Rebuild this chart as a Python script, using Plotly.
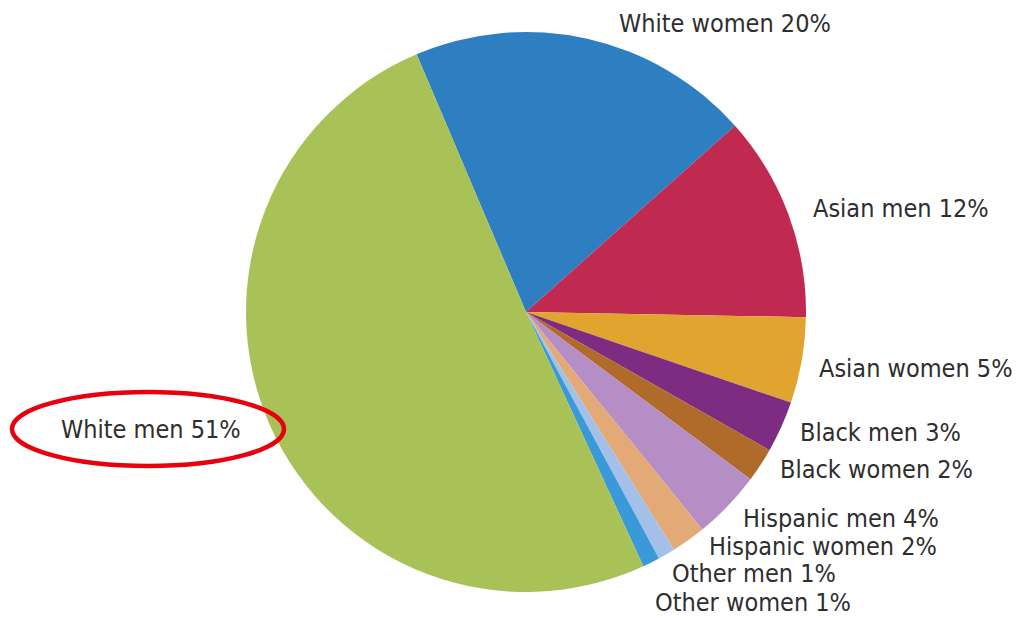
import plotly.graph_objects as go

# Share of workforce by group (percent)
groups = ["White women", "Asian men", "Asian women", "Black men", "Black women",
          "Hispanic men", "Hispanic women", "Other men", "Other women", "White men"]
shares = [20, 12, 5, 3, 2, 4, 2, 1, 1, 51]
colors = ["#2D7FC1", "#C02A50", "#E0A42F", "#7E2B82", "#B06A2A",
          "#B58EC6", "#E3A977", "#A4C0E8", "#3A9AD9", "#A8C257"]

# Label centres in pixels (x, y from top) for the 1023x618 canvas
label_px = [(725, 24), (901, 208), (916, 368), (880, 432), (876, 469),
            (841, 518), (823, 546), (754, 573), (753, 602), (151, 429)]

W, H = 1023, 618
cx, cy, r = 526, 312, 280

fig = go.Figure(go.Pie(
    labels=groups,
    values=shares,
    sort=False,
    direction="clockwise",
    rotation=-23,
    marker=dict(colors=colors, line=dict(width=0)),
    textinfo="none",
    hoverinfo="label+percent",
    showlegend=False,
    domain=dict(x=[(cx - r) / W, (cx + r) / W],
                y=[(H - cy - r) / H, (H - cy + r) / H]),
))

font = dict(family="Liberation Sans Narrow, DejaVu Sans Condensed, sans-serif",
            size=25, color="#2E2E2E")
for g, s, (px, py) in zip(groups, shares, label_px):
    fig.add_annotation(x=px / W, y=1 - py / H, xref="paper", yref="paper",
                       text=f"{g} {s}%", showarrow=False, font=font,
                       xanchor="center", yanchor="middle", borderpad=0)

# Highlight ring around the largest group
fig.add_shape(type="circle", xref="paper", yref="paper",
              x0=12 / W, x1=284 / W, y0=1 - 466 / H, y1=1 - 392 / H,
              line=dict(color="#E8000E", width=4.5))

fig.update_layout(width=W, height=H, margin=dict(l=0, r=0, t=0, b=0),
                  paper_bgcolor="white", plot_bgcolor="white")
fig.write_html("out.html")
